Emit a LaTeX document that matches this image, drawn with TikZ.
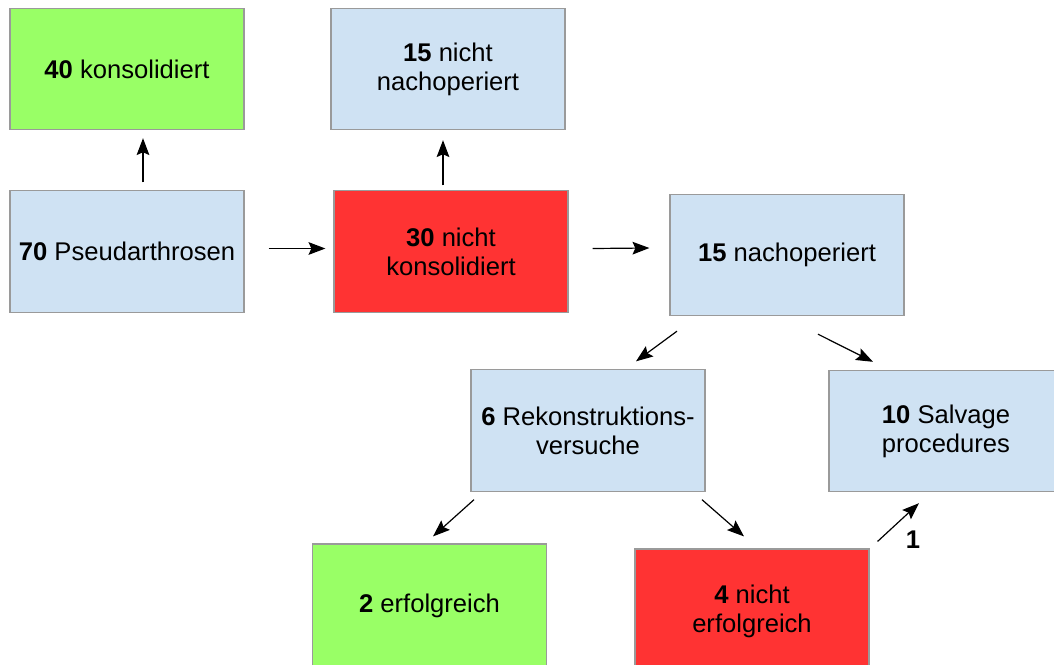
\documentclass[tikz,border=0pt]{standalone}
\usepackage{fontspec}
\setmainfont{Liberation Sans}
\usetikzlibrary{arrows.meta, positioning}
\definecolor{boxblue}{HTML}{CFE2F3}
\definecolor{boxgreen}{HTML}{99FF66}
\definecolor{boxred}{HTML}{FF3333}
\definecolor{boxline}{HTML}{9A9A9A}

\begin{document}
\begin{tikzpicture}[
  x=0.025cm, y=-0.025cm,
  box/.style={rectangle, draw=boxline, line width=0.8pt, minimum width=5.85cm,
              minimum height=3.03cm, inner sep=0pt, align=center,
              font=\fontsize{18.2}{20.6}\selectfont},
  bluebox/.style={box, fill=boxblue},
  greenbox/.style={box, fill=boxgreen},
  redbox/.style={box, fill=boxred},
  arrow/.style={-{Stealth[length=12pt, width=9pt, inset=2pt]}, line width=0.85pt},
  lbl/.style={font=\fontsize{18.2}{20.6}\selectfont\bfseries, inner sep=0pt},
]
  \clip (0,0) rectangle (1054,665);

  \node[greenbox] (k40)   at (127, 69)    {\textbf{40} konsolidiert};
  \node[bluebox]  (p70)   at (127, 251.5) {\textbf{70} Pseudarthrosen};
  \node[bluebox]  (nn15)  at (448, 69)    {\textbf{15} nicht\\nachoperiert};
  \node[redbox]   (n30)   at (451, 251.5) {\textbf{30} nicht\\konsolidiert};
  \node[bluebox]  (na15)  at (787, 255)   {\textbf{15} nachoperiert};
  \node[bluebox]  (r6)    at (588, 430.5) {\textbf{6} Rekonstruktions-\\versuche};
  \node[bluebox]  (s10)   at (946, 431)   {\textbf{10} Salvage\\procedures};
  \node[greenbox, minimum height=3.1cm] (erf2)  at (429.5, 606) {\textbf{2} erfolgreich};
  \node[redbox, minimum height=3.1cm]   (nerf4) at (752, 611)   {\textbf{4} nicht\\erfolgreich};
  \node[lbl]      (one)   at (913, 540)   {1};

  \draw[arrow] ([shift={(16,-8)}]p70.north) -- ([shift={(16,8)}]k40.south);
  \draw[arrow] ([shift={(24,-3)}]p70.east) -- ([shift={(-8,-3)}]n30.west);
  \draw[arrow] ([shift={(-8,-5)}]n30.north) -- ([shift={(-5,10)}]nn15.south);
  \draw[arrow] ([shift={(24,-3)}]n30.east) -- ([shift={(-20,-7)}]na15.west);
  \draw[arrow] ([shift={(-110,15)}]na15.south) -- ([shift={(48,-8)}]r6.north);
  \draw[arrow] ([shift={(31,18)}]na15.south) -- ([shift={(-73,-8)}]s10.north);
  \draw[arrow] ([shift={(114,8)}]r6.south) -- ([shift={(-8,-12)}]nerf4.north);
  \draw[arrow] ([shift={(-114,8)}]r6.south) -- ([shift={(3.5,-7)}]erf2.north);
  \draw[arrow] ([shift={(8,-7)}]nerf4.north east) -- ([shift={(-27,11)}]s10.south);
\end{tikzpicture}
\end{document}
